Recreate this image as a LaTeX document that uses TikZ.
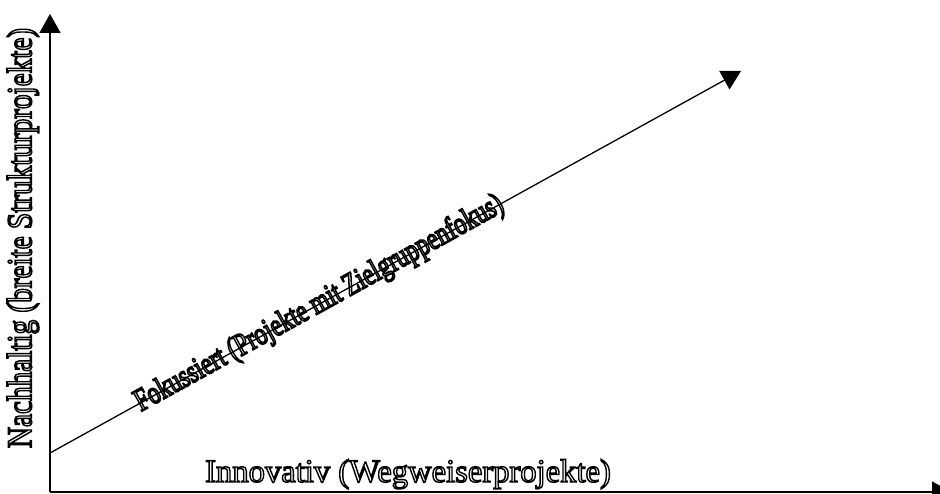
\documentclass[tikz,border=0pt]{standalone}
\usepackage{fontspec}
\setmainfont{Liberation Serif}
\usetikzlibrary{positioning,arrows.meta,calc}
% hollow (outlined) letters, as in the original chart
\newcommand{\hollow}[1]{\special{pdf:literal direct 1 Tr 1.4 w}#1\special{pdf:literal direct 0 Tr}}
\newcommand{\tallhollow}[2][1.2]{\scalebox{1}[#1]{\hollow{#2}}}
\tikzset{
  axln/.style={-{Triangle[width=21pt,length=19pt]},line width=1.7pt},
  dgln/.style={-{Triangle[width=21pt,length=19pt]},line width=1.3pt},
  lblbig/.style={inner sep=0pt,font=\fontsize{32.6}{36}\selectfont},
  lblmid/.style={inner sep=0pt,font=\fontsize{29.2}{33}\selectfont},
  lblsml/.style={inner sep=0pt,font=\fontsize{24}{27}\selectfont},
}
\begin{document}
\begin{tikzpicture}[x=1pt,y=1pt]
  \useasboundingbox (0,0) rectangle (940,494);
  % axes and the diagonal
  \coordinate (orig) at (50,2);
  \coordinate (ytip) at (50,480);
  \coordinate (xtip) at (951,2);
  \coordinate (dgst) at (50,41);
  \coordinate (dgend) at (741,423);
  \draw[axln] (orig) -- (ytip);
  \draw[axln] (orig) -- (xtip);
  \draw[dgln] (dgst) -- (dgend);
  % labels
  \node[lblmid,rotate=90] (nach) at (23,256) {\tallhollow{Nachhaltig (breite Strukturprojekte)}};
  \node[lblbig,anchor=base west] (inno) at (205,12) {\hollow{Innovativ (Wegweiserprojekte)}};
  \path (dgst) -- node[lblsml,sloped,pos=0.39] (foku) {\tallhollow[1.32]{Fokussiert (Projekte mit Zielgruppenfokus)}} (dgend);
\end{tikzpicture}
\end{document}
